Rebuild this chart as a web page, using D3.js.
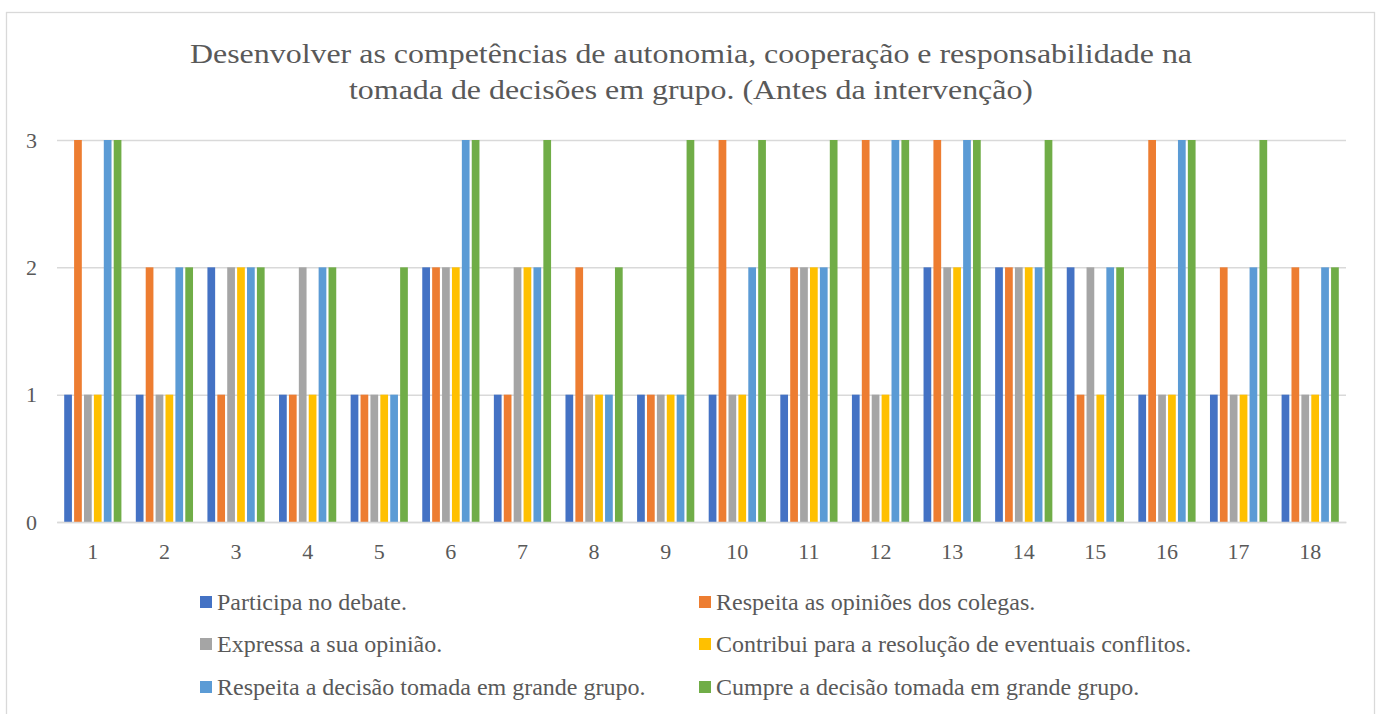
<!DOCTYPE html>
<html><head><meta charset="utf-8">
<script src="https://cdn.jsdelivr.net/npm/d3@7"></script>
</head><body style="margin:0;background:#fff">
<svg id="c" width="1384" height="714" style="display:block"></svg>
<script>
const categories = ["1","2","3","4","5","6","7","8","9","10","11","12","13","14","15","16","17","18"];
const seriesNames = ["Participa no debate.","Respeita as opiniões dos colegas.","Expressa a sua opinião.","Contribui para a resolução de eventuais conflitos.","Respeita a decisão tomada em grande grupo.","Cumpre a decisão tomada em grande grupo."];
const participa   = [1,1,2,1,1,2,1,1,1,1,1,1,2,2,2,1,1,1];
const respeitaOp  = [3,2,1,1,1,2,1,2,1,3,2,3,3,2,1,3,2,2];
const expressa    = [1,1,2,2,1,2,2,1,1,1,2,1,2,2,2,1,1,1];
const contribui   = [1,1,2,1,1,2,2,1,1,1,2,1,2,2,1,1,1,1];
const respeitaDec = [3,2,2,2,1,3,2,1,1,2,2,3,3,2,2,3,2,2];
const cumpre      = [3,2,2,2,2,3,3,2,3,3,3,3,3,3,2,3,3,2];
const yTicks = [0,1,2,3];
const colors = ["#4472C4","#ED7D31","#A5A5A5","#FFC000","#5B9BD5","#70AD47"];
const titleLines = ["Desenvolver as competências de autonomia, cooperação e responsabilidade na","tomada de decisões em grupo. (Antes da intervenção)"];

const FONT = "Liberation Serif";
const TXT = "#595959";
const series = [participa, respeitaOp, expressa, contribui, respeitaDec, cumpre];
const svg = d3.select("#c");

svg.append("rect").attr("x",6.5).attr("y",12.5).attr("width",1368).attr("height",720)
  .attr("fill","#fff").attr("stroke","#d9d9d9").attr("stroke-width",1.3);

const L=57, R=1346, T=140, B=522;
const x0 = d3.scaleBand().domain(categories).range([L,R]).padding(0);
const bw = x0.bandwidth();
const x1 = d3.scaleBand().domain(d3.range(6)).range([7.2, bw-7.2]).paddingInner(0.22).paddingOuter(0);
const y = d3.scaleLinear().domain([0,3]).range([B,T]);

// gridlines + y labels
const yAxis = d3.axisLeft(y).tickValues(yTicks).tickSize(-(R-L)).tickPadding(14).tickFormat(d3.format("d"));
const gy = svg.append("g").attr("transform",`translate(${L},0)`).call(yAxis);
gy.attr("font-family",null).attr("font-size",null);
gy.select(".domain").remove();
gy.selectAll(".tick line").attr("stroke","#d9d9d9").attr("stroke-width",1.5);
gy.selectAll(".tick text").attr("x",-20).style("font-size","22px").style("fill",TXT).style("font-family",FONT);

// bars
const g = svg.append("g");
categories.forEach((c,i)=>{
  series.forEach((s,j)=>{
    g.append("rect").attr("x",x0(c)+x1(j)).attr("y",y(s[i])).attr("width",x1.bandwidth())
      .attr("height",y(0)-y(s[i])).attr("fill",colors[j]);
  });
});

// x axis
const xAxis = d3.axisBottom(x0).tickSize(0).tickPadding(21);
const gx = svg.append("g").attr("transform",`translate(0,${B})`).call(xAxis);
gx.attr("font-family",null).attr("font-size",null);
gx.select(".domain").attr("stroke","#d9d9d9").attr("stroke-width",1.5);
gx.selectAll(".tick text").style("font-size","22px").style("fill",TXT).style("font-family",FONT);

// title
const titleW = [1002, 684], titleY = [63, 99];
titleLines.forEach((t,k)=>{
  svg.append("text").attr("x",691).attr("y",titleY[k]).attr("text-anchor","middle")
    .attr("textLength",titleW[k]).attr("lengthAdjust","spacingAndGlyphs")
    .style("font-size","28px").style("font-family",FONT).style("fill",TXT).text(t);
});

// legend
const legX = [200, 699], legY = [602, 644, 687];
seriesNames.forEach((n,j)=>{
  const lx = legX[j%2], ly = legY[Math.floor(j/2)];
  svg.append("rect").attr("x",lx).attr("y",ly-6).attr("width",12).attr("height",12).attr("fill",colors[j]);
  svg.append("text").attr("x",lx+17).attr("y",ly+8).style("font-size","24px").style("font-family",FONT).style("fill",TXT).text(n);
});
</script>
</body></html>
